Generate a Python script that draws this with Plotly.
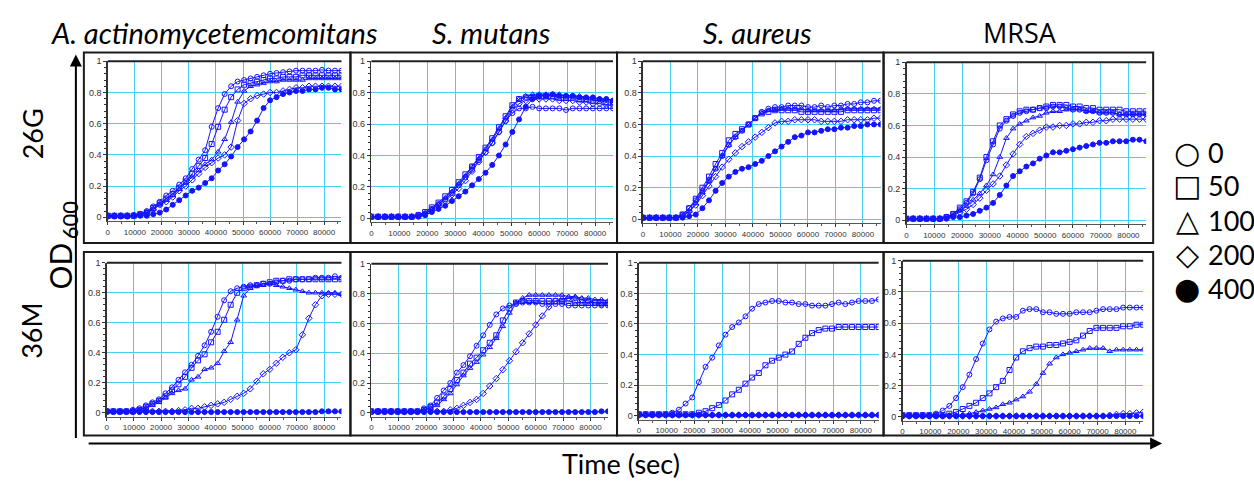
import plotly.graph_objects as go

# ---------------- data ----------------
T = [0, 2400, 4800, 7200, 9600, 12000, 14400, 16800, 19200, 21600, 24000, 26400,
     28800, 31200, 33600, 36000, 38400, 40800, 43200, 45600, 48000, 50400, 52800,
     55200, 57600, 60000, 62400, 64800, 67200, 69600, 72000, 74400, 76800, 79200,
     81600, 84000, 86400]

CONC_LABELS = ["0", "50", "100", "200", "400"]
STRAINS = ["A. actinomycetemcomitans", "S. mutans", "S. aureus", "MRSA"]
ROWS = ["26G", "36M"]
X_TICKS = [0, 10000, 20000, 30000, 40000, 50000, 60000, 70000, 80000]
Y_TICKS = [0, 0.2, 0.4, 0.6, 0.8, 1]

# A. actinomycetemcomitans, 26G
AA26_0 = [0.01, 0.01, 0.01, 0.01, 0.015, 0.02, 0.04, 0.07, 0.10, 0.14, 0.17, 0.21, 0.25, 0.31, 0.37, 0.43, 0.58, 0.70, 0.79, 0.84, 0.87, 0.88, 0.89, 0.90, 0.91, 0.92, 0.925, 0.93, 0.935, 0.94, 0.94, 0.94, 0.94, 0.945, 0.94, 0.94, 0.94]
AA26_50 = [0.01, 0.01, 0.01, 0.01, 0.01, 0.02, 0.03, 0.06, 0.09, 0.12, 0.15, 0.19, 0.23, 0.28, 0.33, 0.38, 0.47, 0.58, 0.69, 0.77, 0.82, 0.85, 0.86, 0.87, 0.88, 0.89, 0.89, 0.90, 0.90, 0.90, 0.91, 0.91, 0.91, 0.91, 0.91, 0.91, 0.91]
AA26_100 = [0.01, 0.01, 0.01, 0.01, 0.01, 0.02, 0.03, 0.05, 0.08, 0.11, 0.14, 0.18, 0.22, 0.26, 0.30, 0.34, 0.37, 0.42, 0.50, 0.61, 0.74, 0.81, 0.84, 0.85, 0.86, 0.87, 0.87, 0.88, 0.88, 0.88, 0.88, 0.89, 0.89, 0.89, 0.89, 0.89, 0.89]
AA26_200 = [0.01, 0.01, 0.01, 0.01, 0.01, 0.02, 0.03, 0.05, 0.08, 0.10, 0.13, 0.17, 0.20, 0.24, 0.28, 0.32, 0.35, 0.38, 0.40, 0.45, 0.62, 0.73, 0.76, 0.78, 0.79, 0.80, 0.80, 0.81, 0.82, 0.83, 0.83, 0.84, 0.84, 0.84, 0.84, 0.84, 0.84]
AA26_400 = [0.005, 0.005, 0.005, 0.005, 0.01, 0.01, 0.01, 0.02, 0.03, 0.05, 0.08, 0.11, 0.14, 0.17, 0.19, 0.22, 0.25, 0.30, 0.34, 0.39, 0.45, 0.50, 0.55, 0.62, 0.70, 0.75, 0.77, 0.79, 0.80, 0.81, 0.81, 0.82, 0.82, 0.83, 0.83, 0.82, 0.82]

# S. mutans, 26G
SM26_0 = [0.01, 0.01, 0.01, 0.01, 0.01, 0.01, 0.01, 0.02, 0.03, 0.06, 0.09, 0.12, 0.16, 0.21, 0.26, 0.31, 0.37, 0.42, 0.48, 0.55, 0.62, 0.67, 0.70, 0.70, 0.71, 0.70, 0.70, 0.70, 0.70, 0.69, 0.70, 0.70, 0.70, 0.70, 0.70, 0.70, 0.70]
SM26_50 = [0.01, 0.01, 0.01, 0.01, 0.01, 0.01, 0.01, 0.02, 0.04, 0.07, 0.10, 0.14, 0.18, 0.23, 0.28, 0.33, 0.39, 0.45, 0.51, 0.58, 0.65, 0.72, 0.76, 0.77, 0.77, 0.78, 0.78, 0.78, 0.77, 0.77, 0.77, 0.76, 0.76, 0.75, 0.75, 0.74, 0.74]
SM26_100 = [0.01, 0.01, 0.01, 0.01, 0.01, 0.01, 0.01, 0.02, 0.03, 0.06, 0.09, 0.13, 0.17, 0.22, 0.27, 0.33, 0.38, 0.44, 0.50, 0.57, 0.64, 0.71, 0.76, 0.78, 0.79, 0.79, 0.79, 0.79, 0.79, 0.78, 0.78, 0.78, 0.77, 0.77, 0.76, 0.76, 0.75]
SM26_200 = [0.01, 0.01, 0.01, 0.01, 0.01, 0.01, 0.01, 0.02, 0.03, 0.05, 0.08, 0.11, 0.15, 0.19, 0.24, 0.30, 0.36, 0.42, 0.48, 0.55, 0.62, 0.69, 0.73, 0.75, 0.76, 0.76, 0.76, 0.76, 0.75, 0.75, 0.75, 0.74, 0.74, 0.73, 0.73, 0.72, 0.72]
SM26_400 = [0.01, 0.01, 0.01, 0.01, 0.01, 0.01, 0.01, 0.01, 0.02, 0.04, 0.06, 0.08, 0.11, 0.14, 0.17, 0.21, 0.25, 0.29, 0.34, 0.40, 0.47, 0.55, 0.63, 0.71, 0.76, 0.78, 0.78, 0.79, 0.78, 0.78, 0.78, 0.77, 0.77, 0.77, 0.76, 0.76, 0.75]

# S. aureus, 26G
SA26_0 = [0.01, 0.01, 0.01, 0.01, 0.01, 0.01, 0.03, 0.07, 0.12, 0.18, 0.25, 0.32, 0.40, 0.47, 0.52, 0.56, 0.60, 0.64, 0.68, 0.70, 0.71, 0.71, 0.72, 0.72, 0.72, 0.71, 0.71, 0.72, 0.71, 0.72, 0.72, 0.73, 0.73, 0.74, 0.74, 0.75, 0.75]
SA26_50 = [0.01, 0.01, 0.01, 0.01, 0.01, 0.01, 0.03, 0.07, 0.13, 0.20, 0.27, 0.35, 0.42, 0.50, 0.54, 0.57, 0.60, 0.64, 0.67, 0.68, 0.69, 0.69, 0.69, 0.69, 0.68, 0.68, 0.68, 0.68, 0.68, 0.68, 0.68, 0.69, 0.69, 0.69, 0.69, 0.69, 0.69]
SA26_100 = [0.01, 0.01, 0.01, 0.01, 0.01, 0.01, 0.02, 0.05, 0.10, 0.17, 0.24, 0.32, 0.40, 0.47, 0.52, 0.56, 0.60, 0.64, 0.67, 0.69, 0.69, 0.70, 0.70, 0.70, 0.70, 0.69, 0.69, 0.69, 0.69, 0.69, 0.70, 0.70, 0.70, 0.70, 0.70, 0.70, 0.70]
SA26_200 = [0.01, 0.01, 0.01, 0.01, 0.01, 0.01, 0.02, 0.05, 0.09, 0.15, 0.21, 0.27, 0.33, 0.38, 0.42, 0.46, 0.49, 0.52, 0.55, 0.58, 0.61, 0.62, 0.62, 0.63, 0.63, 0.63, 0.63, 0.62, 0.62, 0.62, 0.62, 0.63, 0.63, 0.63, 0.63, 0.64, 0.64]
SA26_400 = [0.01, 0.01, 0.01, 0.01, 0.01, 0.01, 0.01, 0.02, 0.03, 0.07, 0.12, 0.18, 0.23, 0.27, 0.30, 0.32, 0.33, 0.35, 0.37, 0.40, 0.43, 0.46, 0.49, 0.52, 0.53, 0.55, 0.55, 0.56, 0.57, 0.57, 0.58, 0.58, 0.59, 0.59, 0.60, 0.60, 0.60]

# MRSA, 26G
MR26_0 = [0.01, 0.01, 0.01, 0.01, 0.01, 0.01, 0.02, 0.04, 0.07, 0.11, 0.17, 0.26, 0.38, 0.48, 0.58, 0.63, 0.66, 0.68, 0.69, 0.70, 0.71, 0.71, 0.72, 0.72, 0.71, 0.70, 0.70, 0.69, 0.69, 0.68, 0.68, 0.68, 0.67, 0.67, 0.67, 0.67, 0.67]
MR26_50 = [0.01, 0.01, 0.01, 0.01, 0.01, 0.01, 0.02, 0.04, 0.08, 0.12, 0.18, 0.27, 0.40, 0.50, 0.60, 0.64, 0.67, 0.69, 0.70, 0.70, 0.71, 0.72, 0.73, 0.73, 0.73, 0.72, 0.72, 0.71, 0.71, 0.70, 0.70, 0.70, 0.70, 0.69, 0.69, 0.69, 0.69]
MR26_100 = [0.01, 0.01, 0.01, 0.01, 0.01, 0.01, 0.02, 0.03, 0.06, 0.09, 0.13, 0.17, 0.22, 0.29, 0.40, 0.52, 0.58, 0.61, 0.63, 0.65, 0.66, 0.68, 0.69, 0.69, 0.70, 0.70, 0.70, 0.69, 0.69, 0.68, 0.68, 0.68, 0.67, 0.67, 0.67, 0.67, 0.67]
MR26_200 = [0.01, 0.01, 0.01, 0.01, 0.01, 0.01, 0.02, 0.03, 0.05, 0.07, 0.10, 0.14, 0.19, 0.23, 0.28, 0.35, 0.42, 0.48, 0.53, 0.55, 0.57, 0.59, 0.59, 0.60, 0.60, 0.61, 0.61, 0.62, 0.62, 0.63, 0.63, 0.64, 0.64, 0.64, 0.64, 0.64, 0.64]
MR26_400 = [0.01, 0.01, 0.01, 0.01, 0.01, 0.01, 0.01, 0.02, 0.02, 0.03, 0.04, 0.06, 0.08, 0.11, 0.16, 0.22, 0.28, 0.31, 0.34, 0.36, 0.39, 0.41, 0.43, 0.43, 0.44, 0.45, 0.46, 0.47, 0.48, 0.49, 0.49, 0.50, 0.50, 0.50, 0.51, 0.51, 0.50]

# A. actinomycetemcomitans, 36M
AA36_0 = [0.01, 0.01, 0.01, 0.01, 0.02, 0.03, 0.05, 0.07, 0.09, 0.13, 0.17, 0.22, 0.27, 0.32, 0.38, 0.45, 0.54, 0.64, 0.75, 0.81, 0.83, 0.84, 0.85, 0.85, 0.86, 0.86, 0.87, 0.88, 0.88, 0.89, 0.89, 0.89, 0.90, 0.90, 0.90, 0.91, 0.90]
AA36_50 = [0.01, 0.01, 0.01, 0.01, 0.01, 0.02, 0.04, 0.06, 0.08, 0.11, 0.15, 0.19, 0.24, 0.30, 0.35, 0.39, 0.47, 0.54, 0.62, 0.72, 0.80, 0.83, 0.84, 0.85, 0.86, 0.87, 0.88, 0.88, 0.89, 0.89, 0.89, 0.89, 0.89, 0.89, 0.89, 0.89, 0.89]
AA36_100 = [0.01, 0.01, 0.01, 0.01, 0.01, 0.02, 0.03, 0.05, 0.07, 0.10, 0.13, 0.15, 0.16, 0.22, 0.24, 0.29, 0.30, 0.33, 0.41, 0.47, 0.62, 0.78, 0.83, 0.85, 0.85, 0.86, 0.85, 0.84, 0.83, 0.82, 0.81, 0.80, 0.80, 0.80, 0.80, 0.80, 0.79]
AA36_200 = [0.01, 0.01, 0.01, 0.01, 0.01, 0.01, 0.01, 0.01, 0.01, 0.01, 0.01, 0.015, 0.02, 0.03, 0.03, 0.04, 0.05, 0.06, 0.07, 0.09, 0.11, 0.13, 0.16, 0.21, 0.26, 0.29, 0.33, 0.37, 0.40, 0.42, 0.52, 0.63, 0.72, 0.78, 0.79, 0.79, 0.79]
AA36_400 = [0.005, 0.005, 0.005, 0.005, 0.005, 0.005, 0.005, 0.005, 0.005, 0.005, 0.005, 0.005, 0.005, 0.005, 0.005, 0.005, 0.005, 0.005, 0.005, 0.005, 0.005, 0.005, 0.005, 0.005, 0.005, 0.005, 0.005, 0.005, 0.005, 0.005, 0.005, 0.005, 0.005, 0.01, 0.01, 0.01, 0.01]

# S. mutans, 36M
SM36_0 = [0.01, 0.01, 0.01, 0.01, 0.01, 0.01, 0.01, 0.01, 0.03, 0.05, 0.10, 0.15, 0.20, 0.27, 0.32, 0.38, 0.45, 0.52, 0.59, 0.66, 0.70, 0.72, 0.73, 0.74, 0.74, 0.74, 0.73, 0.73, 0.73, 0.73, 0.72, 0.72, 0.72, 0.72, 0.72, 0.72, 0.72]
SM36_50 = [0.01, 0.01, 0.01, 0.01, 0.01, 0.01, 0.01, 0.01, 0.02, 0.04, 0.07, 0.11, 0.16, 0.22, 0.27, 0.33, 0.37, 0.42, 0.47, 0.52, 0.62, 0.70, 0.74, 0.75, 0.75, 0.75, 0.75, 0.75, 0.75, 0.75, 0.75, 0.74, 0.74, 0.74, 0.74, 0.74, 0.74]
SM36_100 = [0.01, 0.01, 0.01, 0.01, 0.01, 0.01, 0.01, 0.01, 0.02, 0.03, 0.05, 0.09, 0.13, 0.19, 0.25, 0.30, 0.34, 0.39, 0.44, 0.50, 0.58, 0.67, 0.74, 0.77, 0.79, 0.79, 0.79, 0.79, 0.79, 0.79, 0.78, 0.78, 0.77, 0.77, 0.76, 0.76, 0.75]
SM36_200 = [0.01, 0.01, 0.01, 0.01, 0.01, 0.01, 0.01, 0.01, 0.01, 0.01, 0.01, 0.01, 0.02, 0.03, 0.05, 0.07, 0.09, 0.13, 0.18, 0.23, 0.29, 0.35, 0.41, 0.47, 0.53, 0.59, 0.65, 0.71, 0.75, 0.76, 0.77, 0.77, 0.76, 0.75, 0.74, 0.73, 0.73]
SM36_400 = [0.005, 0.005, 0.005, 0.005, 0.005, 0.005, 0.005, 0.005, 0.005, 0.005, 0.005, 0.005, 0.005, 0.005, 0.005, 0.005, 0.005, 0.005, 0.005, 0.005, 0.005, 0.005, 0.005, 0.005, 0.005, 0.005, 0.005, 0.005, 0.005, 0.005, 0.005, 0.005, 0.005, 0.005, 0.005, 0.01, 0.01]

# S. aureus, 36M
SA36_0 = [0.01, 0.01, 0.01, 0.01, 0.01, 0.02, 0.04, 0.08, 0.12, 0.22, 0.32, 0.38, 0.46, 0.53, 0.58, 0.61, 0.65, 0.70, 0.73, 0.74, 0.75, 0.75, 0.74, 0.74, 0.73, 0.73, 0.72, 0.72, 0.72, 0.73, 0.74, 0.73, 0.74, 0.75, 0.75, 0.75, 0.76]
SA36_50 = [0.01, 0.01, 0.01, 0.01, 0.01, 0.01, 0.01, 0.01, 0.01, 0.02, 0.03, 0.05, 0.07, 0.10, 0.14, 0.17, 0.21, 0.25, 0.28, 0.33, 0.36, 0.38, 0.40, 0.42, 0.47, 0.51, 0.54, 0.56, 0.57, 0.57, 0.58, 0.58, 0.58, 0.58, 0.58, 0.58, 0.58]
SA36_100 = [0.005, 0.005, 0.005, 0.005, 0.005, 0.005, 0.005, 0.005, 0.005, 0.005, 0.005, 0.005, 0.005, 0.005, 0.005, 0.005, 0.005, 0.005, 0.005, 0.005, 0.005, 0.005, 0.005, 0.005, 0.005, 0.005, 0.005, 0.005, 0.005, 0.005, 0.005, 0.005, 0.005, 0.005, 0.005, 0.005, 0.005]
SA36_200 = [0.005, 0.005, 0.005, 0.005, 0.005, 0.005, 0.005, 0.005, 0.005, 0.005, 0.005, 0.005, 0.005, 0.005, 0.005, 0.005, 0.005, 0.005, 0.005, 0.005, 0.005, 0.005, 0.005, 0.005, 0.005, 0.005, 0.005, 0.005, 0.005, 0.005, 0.005, 0.005, 0.005, 0.005, 0.005, 0.005, 0.005]
SA36_400 = [0.005, 0.005, 0.005, 0.005, 0.005, 0.005, 0.005, 0.005, 0.005, 0.005, 0.005, 0.005, 0.005, 0.005, 0.005, 0.005, 0.005, 0.005, 0.005, 0.005, 0.005, 0.005, 0.005, 0.005, 0.005, 0.005, 0.005, 0.005, 0.005, 0.005, 0.005, 0.005, 0.005, 0.005, 0.005, 0.005, 0.005]

# MRSA, 36M
MR36_0 = [0.01, 0.01, 0.01, 0.01, 0.01, 0.02, 0.04, 0.07, 0.12, 0.19, 0.27, 0.37, 0.47, 0.56, 0.61, 0.63, 0.64, 0.64, 0.68, 0.69, 0.69, 0.67, 0.67, 0.66, 0.66, 0.66, 0.67, 0.67, 0.67, 0.68, 0.69, 0.69, 0.69, 0.70, 0.70, 0.70, 0.70]
MR36_50 = [0.01, 0.01, 0.01, 0.01, 0.01, 0.01, 0.01, 0.02, 0.03, 0.05, 0.07, 0.09, 0.12, 0.15, 0.19, 0.23, 0.30, 0.38, 0.42, 0.44, 0.45, 0.45, 0.46, 0.46, 0.47, 0.48, 0.49, 0.52, 0.55, 0.57, 0.57, 0.57, 0.57, 0.58, 0.58, 0.59, 0.59]
MR36_100 = [0.01, 0.01, 0.01, 0.01, 0.01, 0.01, 0.01, 0.01, 0.01, 0.015, 0.02, 0.03, 0.04, 0.05, 0.06, 0.08, 0.09, 0.11, 0.13, 0.16, 0.21, 0.28, 0.34, 0.38, 0.40, 0.41, 0.42, 0.43, 0.44, 0.44, 0.44, 0.42, 0.43, 0.43, 0.43, 0.43, 0.43]
MR36_200 = [0.005, 0.005, 0.005, 0.005, 0.005, 0.005, 0.005, 0.005, 0.005, 0.005, 0.005, 0.005, 0.005, 0.005, 0.005, 0.005, 0.005, 0.005, 0.005, 0.005, 0.005, 0.005, 0.005, 0.005, 0.005, 0.005, 0.005, 0.005, 0.005, 0.005, 0.005, 0.01, 0.015, 0.02, 0.02, 0.025, 0.03]
MR36_400 = [0.005, 0.005, 0.005, 0.005, 0.005, 0.005, 0.005, 0.005, 0.005, 0.005, 0.005, 0.005, 0.005, 0.005, 0.005, 0.005, 0.005, 0.005, 0.005, 0.005, 0.005, 0.005, 0.005, 0.005, 0.005, 0.005, 0.005, 0.005, 0.005, 0.005, 0.005, 0.005, 0.005, 0.005, 0.005, 0.005, 0.005]

# ---------------- layout helpers ----------------
W, H = 1254, 481
SYMBOLS = ["circle-open", "square-open", "triangle-up-open", "diamond-open", "circle"]
BLUE = "#1414ff"
GRID = "#45d0f0"
Y_LO = -0.025

PANELS = [
    ([AA26_0, AA26_50, AA26_100, AA26_200, AA26_400], (106, 340, 57, 215)),
    ([SM26_0, SM26_50, SM26_100, SM26_200, SM26_400], (370, 612, 57, 216)),
    ([SA26_0, SA26_50, SA26_100, SA26_200, SA26_400], (642, 880, 57, 217)),
    ([MR26_0, MR26_50, MR26_100, MR26_200, MR26_400], (906, 1146, 58, 218)),
    ([AA36_0, AA36_50, AA36_100, AA36_200, AA36_400], (105, 340, 261, 413)),
    ([SM36_0, SM36_50, SM36_100, SM36_200, SM36_400], (370, 607, 262, 413)),
    ([SA36_0, SA36_50, SA36_100, SA36_200, SA36_400], (638, 878, 261, 416)),
    ([MR36_0, MR36_50, MR36_100, MR36_200, MR36_400], (902, 1143, 259, 417)),
]


def fx(p):
    return p / W


def fy(p):
    return 1 - p / H


fig = go.Figure()
layout = dict(
    width=W, height=H, margin=dict(l=0, r=0, t=0, b=0),
    paper_bgcolor="white", plot_bgcolor="white", showlegend=False,
)
shapes = []
annotations = []
XTICKFONT = dict(family="Liberation Sans Narrow, Liberation Sans, Arial", size=8, color="#333333")
YTICKFONT = dict(family="Liberation Sans Narrow, Liberation Sans, Arial", size=9, color="#333333")

for i, (series, (x0, x1, yt, yb)) in enumerate(PANELS):
    n = i + 1
    xa = "x" if n == 1 else f"x{n}"
    ya = "y" if n == 1 else f"y{n}"
    ybottom = yb + (0 - Y_LO) * (yb - yt)
    for k, ys in enumerate(series):
        fig.add_trace(go.Scatter(
            x=T, y=ys, xaxis=xa, yaxis=ya, mode="lines+markers",
            name=CONC_LABELS[k],
            line=dict(color=BLUE, width=1),
            marker=dict(symbol=SYMBOLS[k], size=5, color=BLUE,
                        line=dict(color=BLUE, width=1)),
        ))
    layout["xaxis" if n == 1 else f"xaxis{n}"] = dict(
        domain=[fx(x0), fx(x1)], anchor=ya, range=[0, 86400],
        tickvals=X_TICKS, ticktext=[str(v) for v in X_TICKS],
        showgrid=True, gridcolor=GRID, gridwidth=1, zeroline=False,
        showline=True, linecolor="#555555", linewidth=1,
        ticks="outside", ticklen=3, tickcolor="#333333",
        minor=dict(ticks="outside", ticklen=2, dtick=5000, tickcolor="#555555"),
        tickfont=XTICKFONT, fixedrange=True,
    )
    layout["yaxis" if n == 1 else f"yaxis{n}"] = dict(
        domain=[fy(ybottom), fy(yt)], anchor=xa, range=[Y_LO, 1.0],
        tickvals=Y_TICKS, ticktext=["0", "0.2", "0.4", "0.6", "0.8", "1"],
        showgrid=True, gridcolor=GRID, gridwidth=1, zeroline=False,
        showline=True, linecolor="#333333", linewidth=1.5,
        ticks="outside", ticklen=3, tickcolor="#333333",
        minor=dict(ticks="outside", ticklen=2, dtick=0.04, tickcolor="#333333"),
        tickfont=YTICKFONT, fixedrange=True,
    )
    # thick top line of each plot
    shapes.append(dict(type="line", xref=f"{xa} domain", yref=f"{ya} domain",
                       x0=0, x1=1, y0=1, y1=1, line=dict(color="#222222", width=2)))

# panel frames
COL_EDGES = [82, 349, 616, 883, 1153]
ROW_EDGES = [(48, 241), (250, 436)]
for (top, bot) in ROW_EDGES:
    for c in range(4):
        shapes.append(dict(type="rect", xref="paper", yref="paper",
                           x0=fx(COL_EDGES[c]), x1=fx(COL_EDGES[c + 1]),
                           y0=fy(bot), y1=fy(top),
                           line=dict(color="#1a1a1a", width=2), layer="above"))

TITLE_FONT = "Lato, Open Sans, Liberation Sans, sans-serif"
title_x = [213, 490, 757, 1020]
for s, cx in zip(STRAINS, title_x):
    if s == "MRSA":
        txt, fam, sz = s, "Open Sans, Lato, sans-serif", 27
    else:
        txt, fam, sz = f"<i>{s}</i>", TITLE_FONT, 29
    annotations.append(dict(text=txt, x=fx(cx), y=fy(28), xref="paper", yref="paper",
                            showarrow=False, xanchor="center", yanchor="middle",
                            font=dict(family=fam, size=sz, color="black")))

for r, cy in zip(ROWS, [130, 330]):
    annotations.append(dict(text=r, x=fx(30), y=fy(cy), xref="paper", yref="paper",
                            showarrow=False, textangle=-90, xanchor="center", yanchor="middle",
                            font=dict(family=TITLE_FONT, size=27, color="black")))

# OD600 axis label (main letters + subscript)
annotations.append(dict(text="OD", x=fx(58), y=fy(264), xref="paper", yref="paper",
                        showarrow=False, textangle=-90, xanchor="center", yanchor="middle",
                        font=dict(family=TITLE_FONT, size=30, color="black")))
annotations.append(dict(text="600", x=fx(67), y=fy(217), xref="paper", yref="paper",
                        showarrow=False, textangle=-90, xanchor="center", yanchor="middle",
                        font=dict(family=TITLE_FONT, size=22, color="black")))
annotations.append(dict(text="Time (sec)", x=fx(620), y=fy(464), xref="paper", yref="paper",
                        showarrow=False, xanchor="center", yanchor="middle",
                        font=dict(family=TITLE_FONT, size=27, color="black")))

# big axis arrows
annotations.append(dict(text="", x=fx(74), y=fy(50), xref="paper", yref="paper",
                        ax=0, ay=385, showarrow=True, arrowhead=2, arrowsize=1.2,
                        arrowwidth=2, arrowcolor="black"))
annotations.append(dict(text="", x=fx(1162), y=fy(444), xref="paper", yref="paper",
                        ax=-1075, ay=0, showarrow=True, arrowhead=2, arrowsize=1.2,
                        arrowwidth=2, arrowcolor="black"))

# concentration key
KEY_GLYPHS = ["\u25CB", "\u25A1", "\u25B3", "\u25C7", "\u25CF"]
key_y = [149, 183, 218, 253, 287]
for g, lab, ky in zip(KEY_GLYPHS, CONC_LABELS, key_y):
    annotations.append(dict(text=g, x=fx(1187), y=fy(ky), xref="paper", yref="paper",
                            showarrow=False, xanchor="center", yanchor="middle",
                            font=dict(family="DejaVu Sans", size=30, color="black")))
    annotations.append(dict(text=lab, x=fx(1206), y=fy(ky), xref="paper", yref="paper",
                            showarrow=False, xanchor="left", yanchor="middle",
                            font=dict(family=TITLE_FONT, size=27, color="black")))

layout["shapes"] = shapes
layout["annotations"] = annotations
fig.update_layout(**layout)
fig.write_html(
    "out.html",
    config={"displayModeBar": False, "staticPlot": True},
    post_script="document.body.style.margin='0px';document.body.style.padding='0px';"
                "document.body.style.overflow='hidden';",
)
